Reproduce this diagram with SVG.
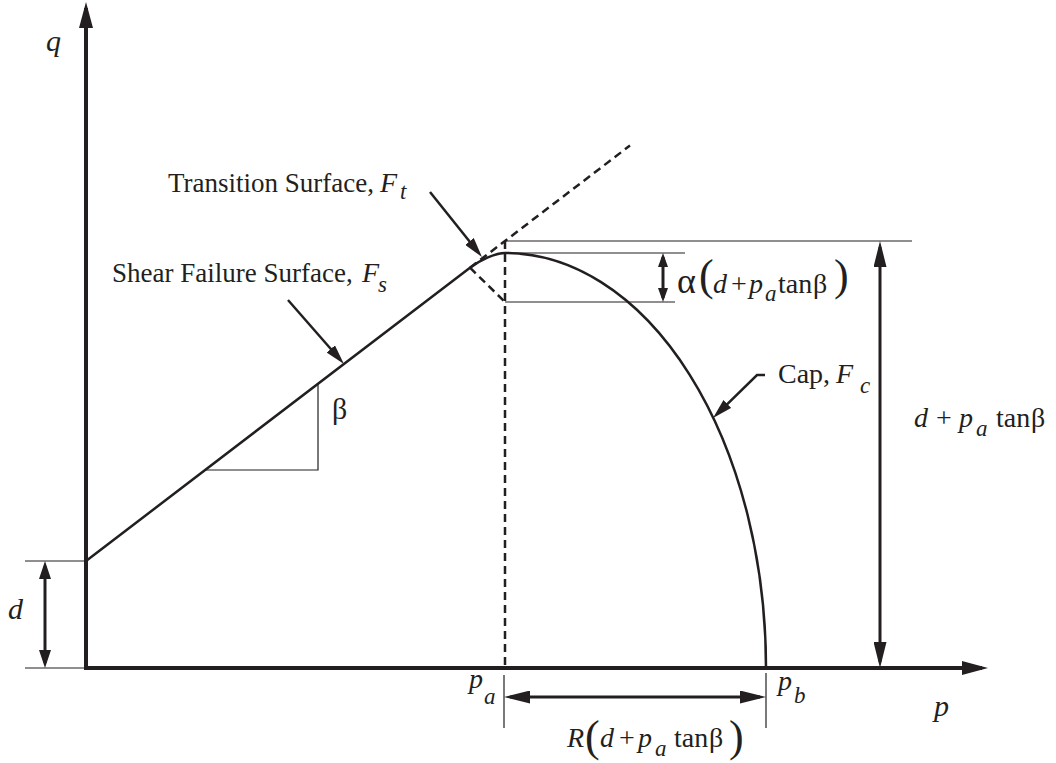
<svg xmlns="http://www.w3.org/2000/svg" width="1056" height="763" viewBox="0 0 1056 763">
<style>
text{font-family:'Liberation Serif','Times New Roman',serif;fill:#231f20;font-size:28px}
.lb{font-size:27px}
.i{font-style:italic}
.s{font-size:23px;font-style:italic}
.v{font-size:30px;font-style:italic}
.pr{font-size:44px}
.thin{stroke:#231f20;stroke-width:1.2;fill:none}
.axis{stroke:#231f20;stroke-width:4;fill:none}
.curve{stroke:#231f20;stroke-width:2.5;fill:none}
.dash{stroke:#231f20;stroke-width:2.5;fill:none;stroke-dasharray:8 5}
.dim{stroke:#231f20;stroke-width:3;fill:none}
</style>
<defs>
<marker id="axA" markerUnits="userSpaceOnUse" markerWidth="26" markerHeight="14" refX="20" refY="7" orient="auto-start-reverse"><path d="M0,0 L26,7 L0,14 z" fill="#231f20"/></marker>
<marker id="dimA" markerUnits="userSpaceOnUse" markerWidth="26" markerHeight="13" refX="20" refY="6.5" orient="auto-start-reverse"><path d="M0,0 L26,6.5 L0,13 z" fill="#231f20"/></marker>
<marker id="smA" markerUnits="userSpaceOnUse" markerWidth="18" markerHeight="12" refX="13" refY="6" orient="auto-start-reverse"><path d="M0,0 L18,6 L0,12 z" fill="#231f20"/></marker>
<marker id="alA" markerUnits="userSpaceOnUse" markerWidth="14" markerHeight="10" refX="10" refY="5" orient="auto-start-reverse"><path d="M0,0 L14,5 L0,10 z" fill="#231f20"/></marker>
<marker id="ptA" markerUnits="userSpaceOnUse" markerWidth="20" markerHeight="11" refX="14" refY="5.5" orient="auto-start-reverse"><path d="M0,0 L20,5.5 L0,11 z" fill="#231f20"/></marker>
</defs>
<rect width="1056" height="763" fill="#fff"/>

<g id="axes">
<line class="axis" x1="86" y1="670" x2="86" y2="8" marker-end="url(#axA)"/>
<line class="axis" x1="84" y1="668" x2="982" y2="668" marker-end="url(#axA)"/>
<text class="v" x="46" y="51">q</text>
<text class="v" x="934" y="716">p</text>
</g>

<g id="yield-surface">
<path class="curve" d="M86,561 L470,267.7 C479.6,260.5 495,253 505,253 A261,415 0 0 1 766,668"/>
<line class="dash" x1="470" y1="267.7" x2="630" y2="145.5"/>
<line class="dash" x1="505" y1="241" x2="505" y2="668"/>
<line class="dash" x1="470" y1="267.7" x2="505" y2="302"/>
<path class="thin" d="M205,470 H318 V384"/>
<text x="332" y="419" style="font-size:30px">β</text>
</g>

<g id="connectors">
<line class="thin" x1="25" y1="561" x2="86" y2="561"/>
<line class="thin" x1="25" y1="668" x2="86" y2="668"/>
<line class="thin" x1="505" y1="241" x2="912" y2="241"/>
<line class="thin" x1="505" y1="253" x2="685" y2="253"/>
<line class="thin" x1="505" y1="302" x2="675" y2="302"/>
<line class="thin" x1="504" y1="675" x2="504" y2="728"/>
<line class="thin" x1="766" y1="673" x2="766" y2="728"/>
<line class="dim" x1="45" y1="566" x2="45" y2="663" marker-start="url(#smA)" marker-end="url(#smA)"/>
<line class="dim" x1="663" y1="257" x2="663" y2="298" stroke-width="2.5" marker-start="url(#alA)" marker-end="url(#alA)"/>
<line class="dim" x1="880" y1="247" x2="880" y2="662" marker-start="url(#dimA)" marker-end="url(#dimA)"/>
<line class="dim" x1="510" y1="697" x2="760" y2="697" stroke-width="3.5" marker-start="url(#dimA)" marker-end="url(#dimA)"/>
<line class="curve" x1="430" y1="192" x2="478.2" y2="252.3" marker-end="url(#ptA)"/>
<line class="curve" x1="288" y1="300" x2="340" y2="359.5" marker-end="url(#ptA)"/>
<path class="curve" d="M765,375 L757,375 L717.3,413.8" marker-end="url(#ptA)"/>
</g>

<g id="label-transition">
<text class="lb" x="168" y="192">Transition Surface,</text>
<text class="i" x="380" y="192">F</text>
<text class="s" x="400" y="199">t</text>
</g>
<g id="label-shear">
<text class="lb" x="112" y="282">Shear Failure Surface,</text>
<text class="i" x="362" y="282">F</text>
<text class="s" x="378" y="292">s</text>
</g>
<g id="label-cap">
<text x="778" y="383">Cap,</text>
<text class="i" x="836" y="383">F</text>
<text class="s" x="860" y="393">c</text>
</g>
<g id="label-d">
<text class="v" x="8" y="619">d</text>
</g>
<g id="label-alpha">
<text x="677" y="293" style="font-size:36px">α</text>
<text class="pr" x="699" y="290">(</text>
<text class="i" x="713" y="293">d</text>
<text x="731" y="293">+</text>
<text class="i" x="749" y="293">p</text>
<text class="s" x="765" y="301">a</text>
<text x="778" y="293">tan</text>
<text x="813" y="293">β</text>
<text class="pr" x="834" y="290">)</text>
</g>
<g id="label-height">
<text class="i" x="914" y="427">d</text>
<text x="936" y="427">+</text>
<text class="i" x="959" y="427">p</text>
<text class="s" x="976" y="436">a</text>
<text x="996" y="427">tan</text>
<text x="1031" y="427">β</text>
</g>
<g id="label-pa">
<text class="i" x="469" y="688">p</text>
<text class="s" x="484" y="704">a</text>
</g>
<g id="label-pb">
<text class="i" x="778" y="690">p</text>
<text class="s" x="794" y="703">b</text>
</g>
<g id="label-R">
<text class="i" x="567" y="747">R</text>
<text class="pr" x="585" y="751">(</text>
<text class="i" x="600" y="747">d</text>
<text x="619" y="747">+</text>
<text class="i" x="638" y="747">p</text>
<text class="s" x="655" y="756">a</text>
<text x="674" y="747">tan</text>
<text x="709" y="747">β</text>
<text class="pr" x="729" y="751">)</text>
</g>
</svg>
